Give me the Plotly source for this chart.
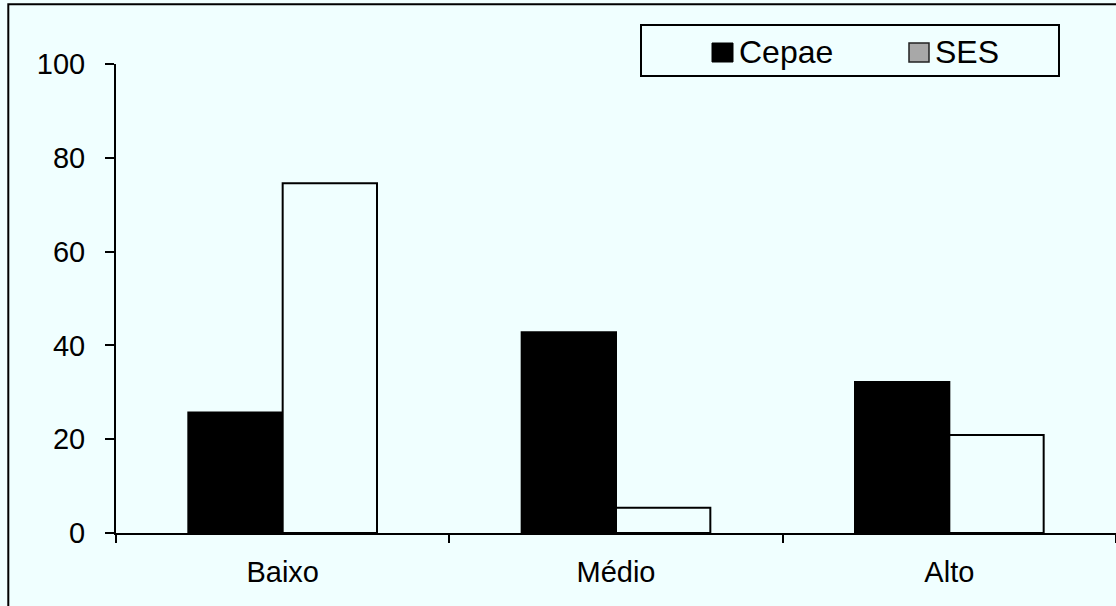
import plotly.graph_objects as go

# Categories and series values (percent)
categories = ["Baixo", "Médio", "Alto"]
series_names = ["Cepae", "SES"]
cepae_values = [25.7, 42.8, 32.2]
ses_values = [74.6, 5.4, 20.9]
y_ticks = [0, 20, 40, 60, 80, 100]

BG = "#F0FFFF"
FONT = "Liberation Sans, Arial, sans-serif"

fig = go.Figure()
fig.add_trace(go.Bar(
    x=categories, y=cepae_values, name=series_names[0],
    marker=dict(color="black", line=dict(color="black", width=2)),
    showlegend=False,
))
fig.add_trace(go.Bar(
    x=categories, y=ses_values, name=series_names[1],
    marker=dict(color=BG, line=dict(color="black", width=2)),
    showlegend=False,
))

# helpers: pixel position -> paper coordinates
L, T, B, W, H = 116, 64, 73, 1116, 606
PW, PH = W - L, H - T - B


def px(x):
    return (x - L) / PW


def py(y):
    return (H - B - y) / PH


shapes = [
    # outer chart frame
    dict(type="rect", xref="paper", yref="paper",
         x0=px(8.3), x1=px(1200), y0=py(700), y1=py(4.3),
         line=dict(color="black", width=2), fillcolor="rgba(0,0,0,0)", layer="below"),
    # legend box
    dict(type="rect", xref="paper", yref="paper",
         x0=px(641), x1=px(1059), y0=py(76), y1=py(25),
         line=dict(color="black", width=2), fillcolor=BG),
    # legend swatches
    dict(type="rect", xref="paper", yref="paper",
         x0=px(712), x1=px(733), y0=py(62), y1=py(43),
         line=dict(color="black", width=1), fillcolor="black"),
    dict(type="rect", xref="paper", yref="paper",
         x0=px(909), x1=px(929), y0=py(62), y1=py(43),
         line=dict(color="#222222", width=1.5), fillcolor="#A8A8A8"),
]

annotations = [
    dict(text=series_names[0], xref="paper", yref="paper", x=px(737), y=py(52),
         xanchor="left", yanchor="middle", showarrow=False,
         font=dict(family=FONT, size=32, color="black")),
    dict(text=series_names[1], xref="paper", yref="paper", x=px(933), y=py(52),
         xanchor="left", yanchor="middle", showarrow=False,
         font=dict(family=FONT, size=32, color="black")),
]

fig.update_layout(
    width=W, height=H,
    margin=dict(l=L, r=0, t=T, b=B),
    paper_bgcolor=BG, plot_bgcolor=BG,
    barmode="group", bargap=0.434, bargroupgap=0,
    font=dict(family=FONT, size=29, color="black"),
    shapes=shapes, annotations=annotations,
)
fig.update_xaxes(
    showline=True, linecolor="black", linewidth=2,
    ticks="outside", ticklen=8, tickwidth=2, tickcolor="black",
    tickson="boundaries", showgrid=False, ticklabelstandoff=12,
    tickfont=dict(family=FONT, size=29, color="black"),
)
fig.update_yaxes(
    range=[0, 100], tickvals=y_ticks,
    showline=True, linecolor="black", linewidth=2,
    ticks="outside", ticklen=9, tickwidth=2, tickcolor="black",
    showgrid=False, zeroline=False, ticklabelstandoff=14,
    tickfont=dict(family=FONT, size=29, color="black"),
)

fig.write_html("out.html")
